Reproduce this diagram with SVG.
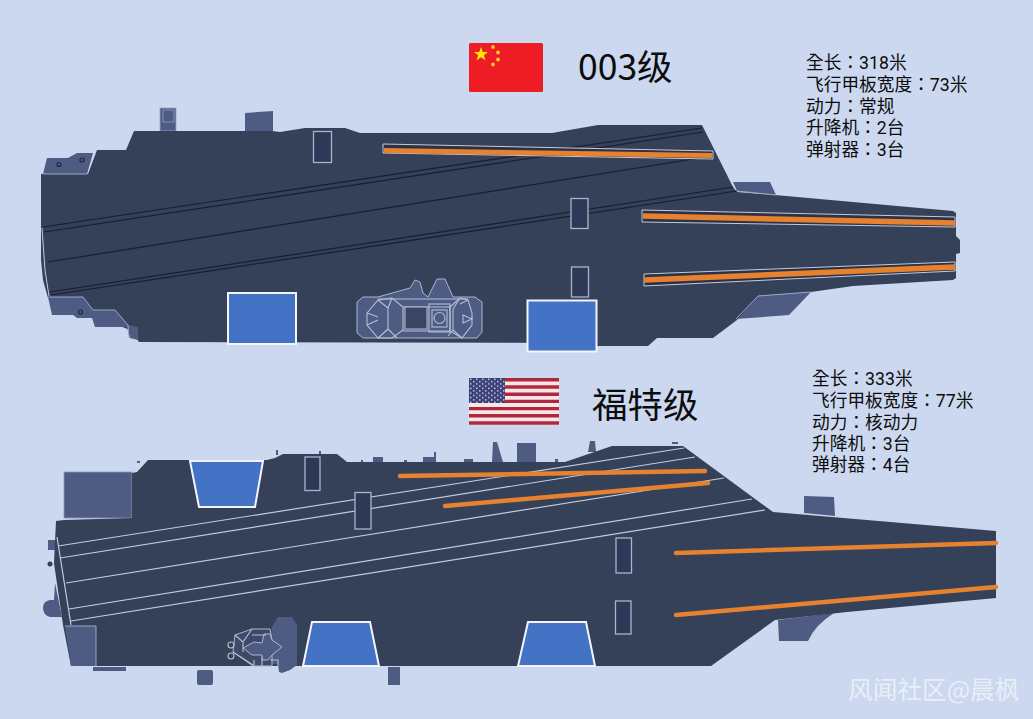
<svg xmlns="http://www.w3.org/2000/svg" width="1033" height="719" viewBox="0 0 1033 719">
<style>
.hull{fill:#354059}
.sp{fill:#4e5c84}
.spl{fill:#4e5c84;stroke:#9aa7c4;stroke-width:.8}
.blue{fill:#4472c4;stroke:#f2f5fb;stroke-width:2}
.rect{fill:#2f3856;stroke:#a9b5cc;stroke-width:1.3}
.dk{stroke:#161e33;stroke-width:1.2;fill:none}
.wl{stroke:#c0cbe0;stroke-width:1.2;fill:none}
.cat{fill:#2b3247;stroke:#c4cbd8;stroke-width:1}
.or{stroke:#e5812f;fill:none}
.il{fill:none;stroke:#b4c0d8;stroke-width:1.100}
.t{font-family:"Noto Sans CJK TC","Noto Sans",sans-serif;fill:#0c0c0c}
.info{font-family:Roboto,"Noto Sans CJK TC",sans-serif;font-size:17.700px;fill:#0c0c0c}
.ttl{font-size:35.500px}
</style>
<defs>
<pattern id="stars" width="6" height="4.600" patternUnits="userSpaceOnUse" x="469" y="378">
<circle cx="1.800" cy="1.200" r="0.800" fill="#dfe3f0"/><circle cx="4.800" cy="3.500" r="0.800" fill="#dfe3f0"/>
</pattern>
</defs>
<rect width="1033" height="719" fill="#cbd8ef"/>

<g id="flag-cn">
<rect x="469" y="43" width="74" height="49" rx="1.500" fill="#ee1c25"/>
<polygon fill="#ffe600" points="481,47 482.800,52 488,52 483.900,55.200 485.400,60.300 481,57.300 476.600,60.300 478.100,55.200 474,52 479.200,52"/>
<circle cx="493" cy="47" r="1.900" fill="#ffc42a"/><circle cx="498" cy="52.500" r="1.900" fill="#ffc42a"/><circle cx="498" cy="59.500" r="1.900" fill="#ffc42a"/><circle cx="493" cy="64.500" r="1.900" fill="#ffc42a"/>
</g>
<g id="flag-us">
<rect x="469" y="378" width="90" height="47" fill="#f7e6e8"/>
<path d="M505 379.800H559M505 387H559M505 394.200H559M505 401.400H559M469 408.600H559M469 415.800H559M469 423H559" stroke="#b0283c" stroke-width="3.400"/>
<rect x="469" y="378" width="36" height="25" fill="#3c4278"/>
<rect x="469" y="378" width="36" height="25" fill="url(#stars)"/>
</g>

<text class="t ttl" x="578" y="80">003级</text>
<text class="t ttl" x="592" y="418">福特级</text>

<g id="info-003" class="info">
<text x="806" y="69">全长：318米</text>
<text x="806" y="91">飞行甲板宽度：73米</text>
<text x="806" y="113">动力：常规</text>
<text x="806" y="134">升降机：2台</text>
<text x="806" y="156">弹射器：3台</text>
</g>
<g id="info-ford" class="info">
<text x="812" y="385">全长：333米</text>
<text x="812" y="407">飞行甲板宽度：77米</text>
<text x="812" y="429">动力：核动力</text>
<text x="812" y="450">升降机：3台</text>
<text x="812" y="471">弹射器：4台</text>
</g>

<g id="ship-003">
<g id="ship-003-sponsons">
<rect class="spl" x="160" y="108" width="16" height="23"/>
<rect class="sp" x="163" y="110" width="11" height="12" stroke="#aab6d0" stroke-width=".6"/>
<polygon class="sp" points="245,113 273,111 273,131 245,131"/>
<polygon class="sp" points="43,174 47,158 68,158 77,153 93,153 87,174"/>
<circle cx="59" cy="164.500" r="2" fill="none" stroke="#1e2740" stroke-width="1.200"/>
<circle cx="82" cy="160" r="2" fill="none" stroke="#1e2740" stroke-width="1.200"/>
<polygon class="sp" points="733,182 770,182 776,195 737,191"/>
<polygon class="sp" points="758,296 811,292 789,315 736,319"/>
</g>
<polygon class="hull" points="41,174 88,174 97,150 126,150 134,131 272,131 280,132 305,128 345,128 360,133 552,133 598,125 702,125 733,187 737,192 775,195 953,211 956,213 956,236 960,240 960,253 956,254 956,278 953,280 853,286 811,292 758,296 737,320 713,338 657,338 648,346 596,346 596,343 139,342 130,330 48,298 43,280 41,260"/>
<path d="M43,174H87M737,191L776,195M736,319L758,296L811,292" fill="none" stroke="#9aa7c4" stroke-width="1"/>
<polygon class="sp" points="48,297 83,297 93,310 115,310 128,325 138,327 138,340 130,338 127,327 95,327 92,318 77,318 73,315 52,315"/>
<path d="M48,297H83L93,310H115L128,325L129,338" fill="none" stroke="#9aa7c4" stroke-width="1"/>
<circle cx="80.500" cy="312" r="2" fill="none" stroke="#1e2740" stroke-width="1.200"/>
<path d="M43 227L702 128M44 232L703 132M48 262L700 158M50 292L733 187M51 295L737 191" class="dk"/>
<path d="M42 228L45 270L49 296" fill="none" stroke="#c0cbe0" stroke-width="1"/>
<polygon class="cat" points="383,144 713,151 713,159 383,153"/>
<line class="or" x1="384" y1="150.500" x2="712" y2="155.500" stroke-width="5"/>
<polygon class="cat" points="642,210 955,217 955,227 642,222"/>
<line class="or" x1="643" y1="216" x2="955" y2="223" stroke-width="5.500"/>
<polygon class="cat" points="644,274 955,262 955,271 644,286"/>
<line class="or" x1="644" y1="280" x2="955" y2="267" stroke-width="5.500"/>
<rect class="blue" x="228" y="293" width="68" height="51"/>
<rect class="blue" x="527.500" y="300.500" width="69" height="51"/>
<rect class="rect" x="313.500" y="131.500" width="18" height="31"/>
<rect class="rect" x="571" y="198.500" width="17" height="30"/>
<rect class="rect" x="571.500" y="267" width="17" height="30"/>
<g id="island-003">
<polygon class="sp" stroke="#aab6d0" stroke-width="1" points="357,302 363,297 378,297 410,288 415,280 420,282 423,293 428,297 437,279 445,279 453,297 475,297 482,302 482,332 477,338 363,338 357,333"/>
<polygon class="il" points="367,313 378,300 392,298 403,307 403,330 392,338 378,338 367,325"/>
<polygon class="il" points="450,307 460,298 468,300 472,313 472,325 462,338 450,331"/>
<path class="il" d="M378,299H468M403,307H450M403,331H450M378,300L388,308L392,298M388,308V329M388,329L378,338M388,329L397,338M367,313L378,317M367,325L378,320M460,298L453,309M453,309V330L462,338M460,304L468,300M453,330L448,336M472,319L463,315L463,323Z"/>
<rect x="405" y="307" width="22" height="22" fill="#3a4562" stroke="#b4c0d8" stroke-width="1"/>
<rect x="429" y="304" width="21" height="28" class="il"/>
<rect x="432" y="310" width="15" height="17" class="il"/>
<circle cx="439.500" cy="318" r="5.500" class="il"/>
</g>
</g>

<g id="ship-ford">
<g id="ship-ford-parts">
<rect class="sp" x="64" y="472" width="68" height="46" stroke="#8e9bb9" stroke-width=".8"/>
<polygon class="sp" points="492,462 493,442 497,442 503,462"/>
<rect class="sp" x="517" y="443" width="19" height="19"/>
<rect class="sp" x="373" y="457" width="10" height="5"/>
<rect class="sp" x="423" y="457" width="13" height="5"/>
<rect class="sp" x="434" y="452" width="2" height="5"/>
<rect class="sp" x="464" y="459" width="9" height="3"/>
<polygon class="sp" points="588,452 590,441 595,441 596,452"/>
<rect class="sp" x="672" y="442" width="6" height="2"/>
<rect class="sp" x="137" y="461" width="3" height="2"/>
<rect class="sp" x="276" y="450" width="2" height="5"/>
<rect class="sp" x="319" y="451" width="2" height="3"/>
<rect class="sp" x="361" y="460" width="2" height="2"/>
<rect class="sp" x="404" y="460" width="3" height="2"/>
<rect class="sp" x="555" y="459" width="3" height="3"/>
<polygon class="sp" points="804,496 834,497 835,516 804,513"/>
<path class="sp" d="M778 620L834 613Q815 625 808 641H779Z"/>
<rect class="sp" x="197" y="670" width="16" height="15" rx="2"/>
<rect class="sp" x="388" y="667" width="12" height="18"/>
<rect class="sp" x="93" y="667" width="33" height="4"/>
<rect class="sp" x="48" y="540" width="8" height="10"/>
<circle cx="50" cy="564" r="2.500" fill="#354059"/>
<path class="sp" d="M55 583L62 617H50Q43 615 43 608Q43 601 50 600H54Z"/>
</g>
<polygon class="hull" points="56,521 64,520 132,518 132,473 137,472 148,460 185,460 267,460 275,458 283,454 337,454 347,462 565,462 612,446 683,446 773,512 996,531 996,598 847,612 775,620 711,666 71,666 63,625 54,563"/>
<path class="wl" d="M58 546L684 448M60 558L695 457M66 583L724 478M69 609L752 499M71 621L765 510M57 537L71 625"/>
<rect class="rect" x="305" y="457" width="15" height="33.500"/>
<rect class="rect" x="355" y="492.500" width="16" height="36.500"/>
<rect class="rect" x="616" y="538" width="15.500" height="35"/>
<rect class="rect" x="615.500" y="601" width="15.500" height="33"/>
<polygon class="blue" points="190,461 263,461 255,507 199,507"/>
<polygon class="blue" points="312,622 370,622 379,666 303,666"/>
<polygon class="blue" points="528,622 586,622 595,666 518,666"/>
<polygon class="sp" points="65,626 96,626 96,666 71,666"/>
<path d="M65,626H96V666" fill="none" stroke="#9aa7c4" stroke-width="1"/>
<g id="ship-ford-orange">
<line class="or" x1="400" y1="476" x2="705" y2="471" stroke-width="4.500" stroke-linecap="round"/>
<line class="or" x1="445" y1="506" x2="708" y2="483" stroke-width="4.500" stroke-linecap="round"/>
<line class="or" x1="676" y1="553" x2="996" y2="543" stroke-width="4.500" stroke-linecap="round"/>
<line class="or" x1="676" y1="615" x2="996" y2="587" stroke-width="4.500" stroke-linecap="round"/>
</g>
<g id="island-ford">
<path class="sp" d="M272 627L278 617H292L297 625V665L290 670L282 673L279 672L278 664L270 664L270 640Z"/>
<polygon fill="#3f4a68" stroke="#aab6d0" stroke-width="1" points="235,635 252,629 270,629 272,640 272,666 253,666 233,652"/>
<path class="sp" d="M243 648L254 642L262 643L264 634L270 634L272 640L282 647L272 655L268 660H262V655L252 655L243 648Z" stroke="#aab6d0" stroke-width="1"/>
<path class="il" d="M235,635L243,642V652M243,642L252,629M252,635H266M233,652L253,665M254,660V666M262,657V666M270,660H278V666"/>
<circle cx="231" cy="645" r="3" class="il"/>
<circle cx="231" cy="656" r="3" class="il"/>
</g>
</g>

<text id="watermark" x="848" y="699" font-size="24.700" font-family="'Noto Sans CJK SC',sans-serif" fill="#e9eef8">风闻社区@晨枫</text>
</svg>
